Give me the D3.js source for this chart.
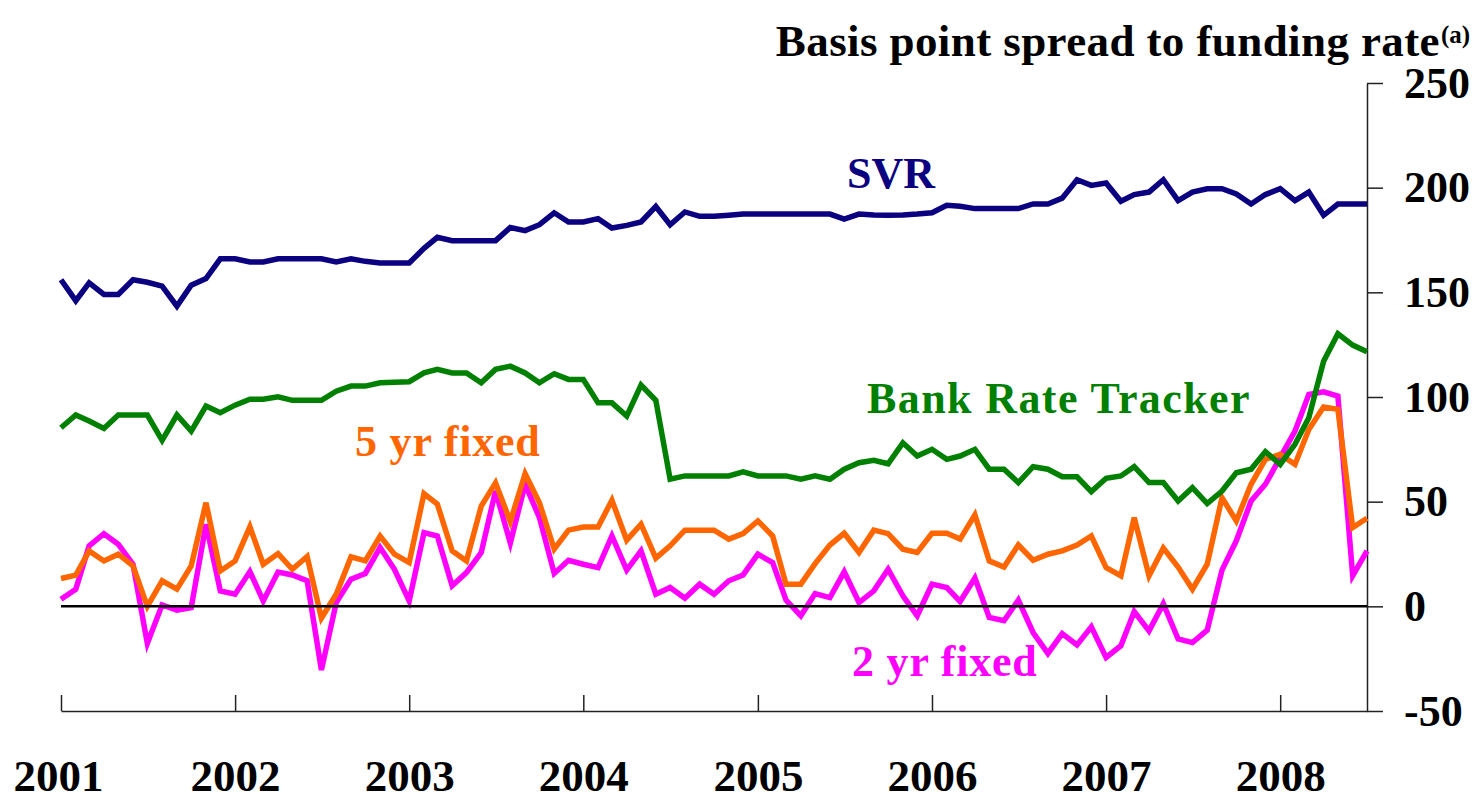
<!DOCTYPE html>
<html>
<head>
<meta charset="utf-8">
<script src="https://cdn.jsdelivr.net/npm/d3@7"></script>
<style>
  body { margin: 0; background: #fff; }
  text { font-family: "Liberation Serif", "Times New Roman", serif; font-weight: bold; }
</style>
</head>
<body>
<div id="chart-area"></div>
<script>
// monthly spreads, Jan 2001 - Jul 2008 (basis points)
var startMonth = new Date(2001, 0, 1);
var endMonth = new Date(2008, 6, 1);
var months = d3.timeMonth.range(startMonth, d3.timeMonth.offset(endMonth, 1));

var years = [2001, 2002, 2003, 2004, 2005, 2006, 2007, 2008];
var yTicks = [-50, 0, 50, 100, 150, 200, 250];

var svr = [156, 146, 154.5, 149, 149, 156, 154.8, 153, 143.4, 153.4, 156.6, 166,
  166, 164.5, 164.5, 166, 166, 166, 166, 164.5, 166, 164.8, 164, 164,
  164, 171, 176.3, 174.7, 174.7, 174.7, 174.7, 181, 179.5, 182.3, 188, 183.6,
  183.6, 185.2, 180.7, 182, 183.6, 191, 182.3, 188.4, 186.3, 186.3, 186.8, 187.4,
  187.4, 187.4, 187.4, 187.4, 187.4, 187.4, 185, 187.4, 187, 186.8, 187, 187.4,
  188, 191.6, 191.1, 190, 190, 190, 190, 192.2, 192.2, 195, 203.8, 201.1,
  202.2, 193.5, 196.7, 197.9, 203.8, 193.8, 197.9, 199.5, 199.5, 197, 192.2, 196.7,
  199.5, 193.8, 197.9, 186.8, 192.2, 192.2, 192.2];

var tracker = [85.3, 91.4, 88.5, 85, 91.4, 91.4, 91.4, 79.3, 91.4, 83.7, 95.7, 92.5,
  96.1, 98.9, 98.9, 100.1, 98.4, 98.4, 98.4, 102.8, 105.2, 105.2, 106.8, 107,
  107.3, 111.5, 113.2, 111.5, 111.5, 106.8, 113.2, 114.7, 111.5, 106.8, 111.1, 108.4,
  108.4, 97.2, 97.2, 90.9, 105.7, 98.4, 60.7, 62.3, 62.3, 62.3, 62.3, 64.2,
  62.3, 62.3, 62.3, 60.7, 62.3, 60.7, 65.5, 68.6, 69.8, 68.1, 78.1, 71.8,
  75, 70.2, 71.8, 75, 65.5, 65.5, 59.1, 66.7, 65.5, 61.9, 61.9, 54.8,
  61.2, 62.3, 66.7, 59.1, 59.1, 50.3, 56.7, 49.1, 55.1, 63.8, 65.5, 73.9,
  67.8, 77.4, 90.1, 117.1, 130.2, 124.8, 121.6];

var fixed5 = [13.3, 14.9, 26.5, 21.7, 24.9, 19.3, 0, 12.2, 8.2, 19.3, 49.5, 16.9,
  21.7, 38, 20.1, 25.2, 17.7, 23.8, -5.6, 5.8, 23.6, 21.7, 33.6, 24.9,
  20.9, 53.8, 48.8, 26.5, 21.7, 47.9, 59, 40.5, 63.4, 49.5, 27.3, 36.4,
  37.9, 37.9, 50.7, 31.6, 39.2, 23, 28.9, 36.4, 36.4, 36.4, 32.1, 34.7,
  40.8, 33.6, 10.6, 10.6, 20.4, 29.3, 34.9, 25.7, 36.4, 34.7, 27.3, 25.7,
  34.9, 34.9, 32.1, 43.7, 21.7, 18.8, 29.3, 22, 24.9, 26.5, 29.3, 33.6,
  18.5, 14.6, 42.4, 14.6, 27.8, 18.8, 8.2, 20.1, 51.9, 40.8, 58.3, 70.2,
  72.6, 67.8, 84.5, 95.2, 94.1, 37.6, 42.1];

var fixed2 = [3.4, 8.2, 28.9, 34.7, 29.7, 20, -17.7, 0.7, -1.8, -0.6, 39.2, 7.4,
  5.8, 16.6, 2.6, 16.4, 15, 12.2, -30.4, 1.8, 13, 15.7, 28.1, 17.7,
  2.6, 35.2, 33.6, 9.8, 16.1, 25.7, 55.1, 30.2, 58.3, 42.4, 15.7, 22,
  20.1, 18.5, 33.6, 17.3, 26.5, 5.8, 9, 3.9, 10.6, 5.8, 12.2, 15,
  24.9, 20.9, 3, -4.5, 6.1, 4.2, 16.5, 1.8, 7.4, 17.7, 5, -4.5,
  10.6, 9, 2.3, 13.5, -5.3, -6.9, 3, -12.5, -22.5, -13, -18.4, -9.8,
  -24.4, -18.8, -2.5, -11.7, 1.3, -15.6, -17.3, -11.4, 17.3, 31.3, 50.3, 58.3,
  71, 83.7, 101.2, 102.5, 100.4, 14.6, 26.5];

var width = 1484;
var height = 800;

var svg = d3.select("#chart-area").append("svg")
.attr("width", width)
.attr("height", height)

var x = d3.scaleTime()
.domain([startMonth, endMonth])
.range([61, 1367])

var y = d3.scaleLinear()
.domain([-50, 250])
.range([711, 83])

// axes
var xAxisCall = d3.axisBottom(x)
.tickValues(years.map(yr => new Date(yr, 0, 1)))
.tickFormat(d3.timeFormat("%Y"))
.tickSize(-16)
.tickSizeOuter(0)
.tickPadding(48)

var xAxis = svg.append("g")
.attr("class", "x axis")
.attr("transform", "translate(0, 711)")
.call(xAxisCall)

xAxis.selectAll("text")
.attr("font-size", "45px")
.attr("font-family", "Liberation Serif, serif")
.attr("font-weight", "bold")
.attr("fill", "#000")
.attr("dx", (d, i) => i == 0 ? -3 : 0)

var yAxisCall = d3.axisRight(y)
.tickValues(yTicks)
.tickFormat(d => String(d))
.tickSize(16)
.tickSizeOuter(0)
.tickPadding(21)

var yAxis = svg.append("g")
.attr("class", "y axis")
.attr("transform", "translate(1367, 0)")
.call(yAxisCall)

yAxis.selectAll("text")
.attr("font-size", "44px")
.attr("font-family", "Liberation Serif, serif")
.attr("font-weight", "bold")
.attr("fill", "#000")

svg.selectAll(".axis path, .axis line")
.attr("stroke", "#222")
.attr("stroke-width", 1.5)

// series lines
var line = d3.line()
.x((d, i) => x(months[i]))
.y(d => y(d))

var series = [
    {name: "2 yr fixed", values: fixed2, color: "#FF00FF"},
    {name: "5 yr fixed", values: fixed5, color: "#FF6600"},
    {name: "Bank Rate Tracker", values: tracker, color: "#008000"},
    {name: "SVR", values: svr, color: "#0A0080"}
]

svg.selectAll(".series").data(series).enter().append("path")
.attr("class", "series")
.attr("d", d => line(d.values))
.attr("fill", "none")
.attr("stroke", d => d.color)
.attr("stroke-width", 5.5)

// zero line
svg.append("line")
.attr("x1", 61)
.attr("x2", 1367)
.attr("y1", y(0))
.attr("y2", y(0))
.attr("stroke", "#000")
.attr("stroke-width", 2.5)

// series labels
var labels = [
    {text: "SVR", x: 847, y: 188, color: "#0A0080", spacing: 0},
    {text: "Bank Rate Tracker", x: 867, y: 413, color: "#008000", spacing: 1.4},
    {text: "5 yr fixed", x: 355, y: 456, color: "#FF6600", spacing: 0.8},
    {text: "2 yr fixed", x: 852, y: 676, color: "#FF00FF", spacing: 0.8}
]

svg.selectAll(".label").data(labels).enter().append("text")
.attr("class", "label")
.attr("x", d => d.x)
.attr("y", d => d.y)
.attr("font-size", "44px")
.attr("letter-spacing", d => d.spacing + "px")
.style("fill", d => d.color)
.text(d => d.text)

// title
svg.append("text")
.attr("x", 1440)
.attr("y", 56)
.attr("font-size", "45px")
.attr("text-anchor", "end")
.attr("letter-spacing", "0.4px")
.style("fill", "black")
.text("Basis point spread to funding rate")

svg.append("text")
.attr("x", 1441)
.attr("y", 43)
.attr("font-size", "25px")
.style("fill", "black")
.text("(a)")
</script>
</body>
</html>
